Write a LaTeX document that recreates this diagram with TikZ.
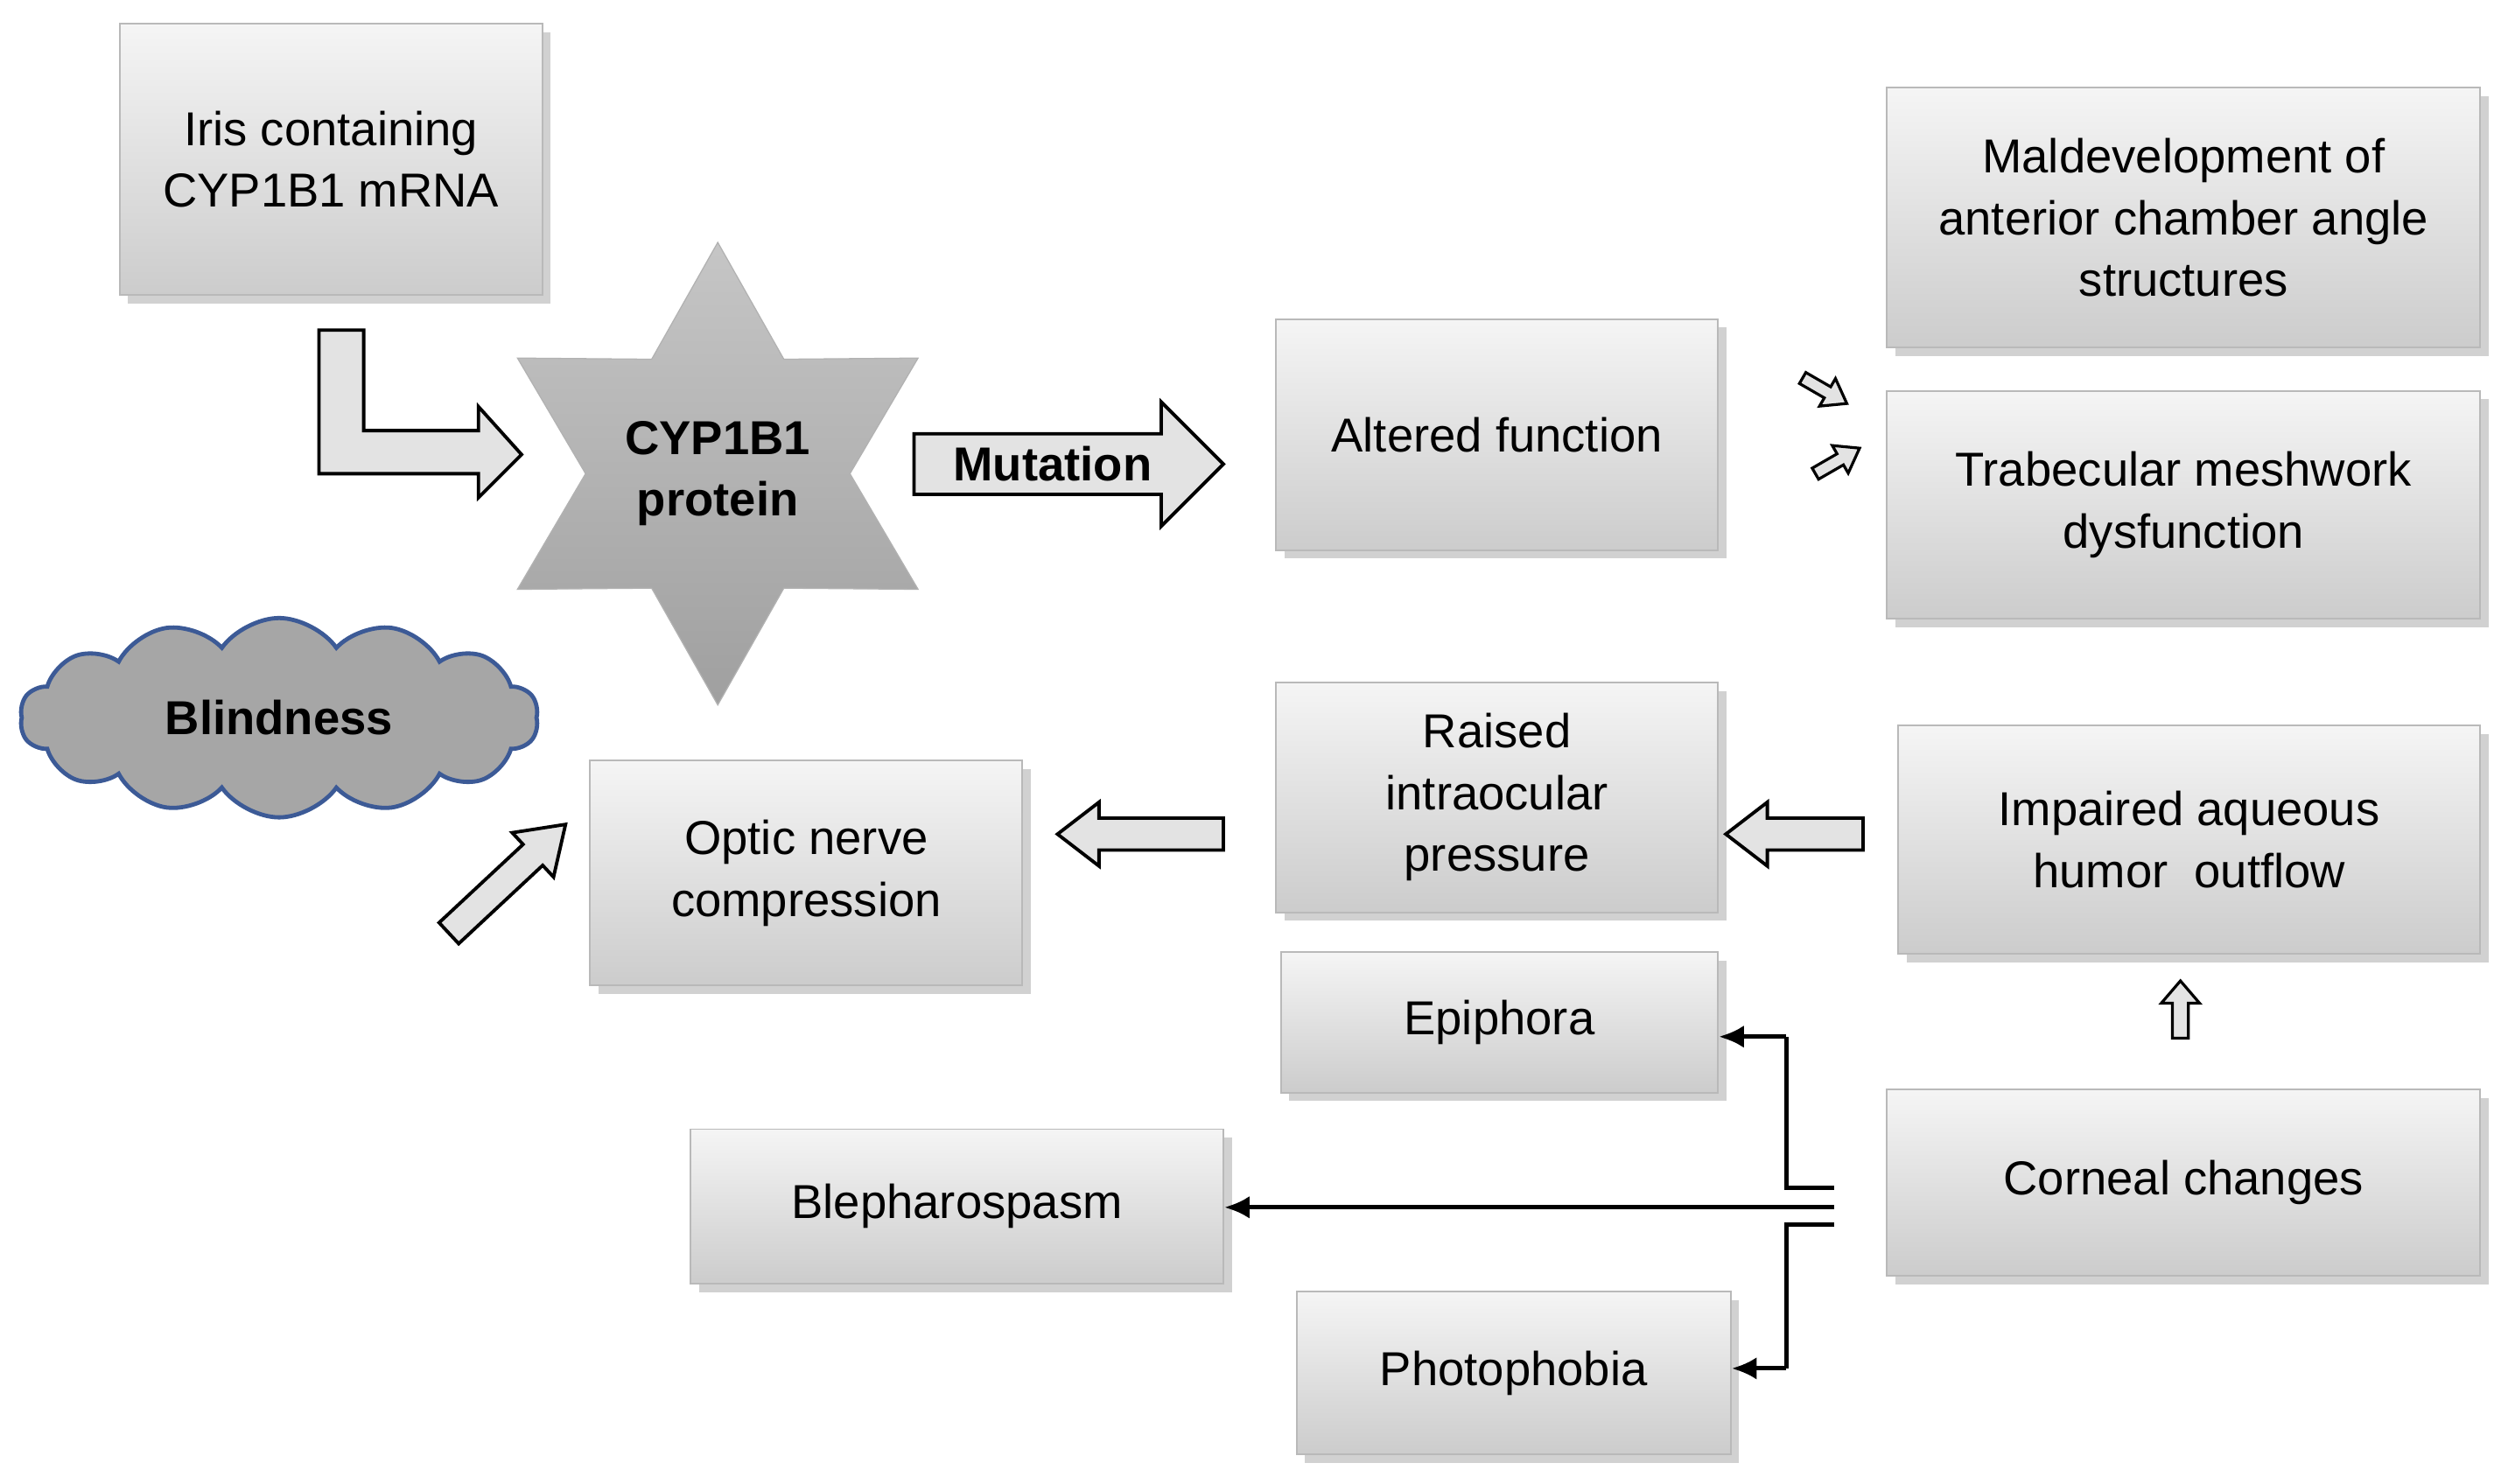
\documentclass[tikz,border=0pt]{standalone}
\usepackage{fontspec}
\setmainfont{Liberation Sans}
\usetikzlibrary{shapes.geometric,shapes.symbols,shadows}
\newcommand\bx[6]{\node[box,minimum width={(#4-#2)*0.02cm},minimum height={(#5-#3)*0.02cm}] (#1) at ({(#2+#4)/2},{(#3+#5)/2}) {#6};}
\begin{document}
\begin{tikzpicture}[x=0.02cm,y=-0.02cm,
  box/.style={draw=gray!55,line width=0.6pt,top color=gray!8,bottom color=gray!40,
    drop shadow={shadow xshift=3pt,shadow yshift=-3pt,fill=gray!60,opacity=0.6},
    align=center,font=\fontsize{17}{22}\selectfont,inner sep=2pt},
  blk/.style={draw=black,line width=1.2pt,fill=gray!22,line join=miter},
  con/.style={line width=1.6pt,-{Latex[length=9pt,width=8pt]}},
  ln/.style={line width=1.6pt}]
\usetikzlibrary{arrows.meta}
\useasboundingbox (0,0) rectangle (1568,930);
\bx{iris}{75}{15}{340}{185}{Iris containing\\CYP1B1 mRNA}
\bx{alt}{800}{200}{1077}{345}{Altered function}
\bx{mal}{1183}{55}{1555}{218}{Maldevelopment of\\anterior chamber angle\\structures}
\bx{tra}{1183}{245}{1555}{388}{Trabecular meshwork\\dysfunction}
\bx{rai}{800}{428}{1077}{572}{Raised\\intraocular\\pressure}
\bx{imp}{1190}{455}{1555}{598}{Impaired aqueous\\humor\ \ outflow}
\bx{opt}{370}{477}{641}{618}{Optic nerve\\compression}
\bx{epi}{803}{597}{1077}{685}{Epiphora}
\bx{cor}{1183}{683}{1555}{800}{Corneal changes}
\bx{ble}{433}{708}{767}{805}{Blepharospasm}
\bx{pho}{813}{810}{1085}{912}{Photophobia}
\node[star,star points=6,star point ratio=1.75,minimum size={290*0.02cm},draw=gray!60,
  top color=gray!45,bottom color=gray!75,align=center,inner sep=0pt,
  font=\fontsize{17}{22}\selectfont\bfseries] (star) at (450,297) {CYP1B1\\protein};
\node[cloud,cloud puffs=14,cloud puff arc=110,aspect=2.6,minimum width={325*0.02cm},minimum height={125*0.02cm},
  draw={rgb,255:red,60;green,90;blue,150},line width=1.5pt,fill=gray!70,
  font=\fontsize{17}{22}\selectfont\bfseries] (bl) at (175,450) {Blindness};
% block arrows
\draw[blk] (200,207)--(228,207)--(228,270)--(300,270)--(300,255)--(327,285)--(300,312)--(300,297)--(200,297)--cycle;
\draw[blk] (573,272)--(728,272)--(728,252)--(767,291)--(728,330)--(728,310)--(573,310)--cycle;
\node[font=\fontsize{17}{22}\selectfont\bfseries] (mut) at (660,291) {Mutation};
\begin{scope}[shift={(1144,245)},rotate=-30]
\draw[blk,line width=1pt] (-16,-4)--(2,-4)--(2,-10)--(16,0)--(2,10)--(2,4)--(-16,4)--cycle;
\end{scope}
\begin{scope}[shift={(1152,289)},rotate=30]
\draw[blk,line width=1pt] (-16,-4)--(2,-4)--(2,-10)--(16,0)--(2,10)--(2,4)--(-16,4)--cycle;
\end{scope}
\begin{scope}[shift={(1125,523)}]
\draw[blk] (43,-10)--(-17,-10)--(-17,-20)--(-43,0)--(-17,20)--(-17,10)--(43,10)--cycle;
\end{scope}
\begin{scope}[shift={(715,523)}]
\draw[blk] (52,-10)--(-26,-10)--(-26,-20)--(-52,0)--(-26,20)--(-26,10)--(52,10)--cycle;
\end{scope}
\begin{scope}[shift={(318,551)},rotate=-137]
\draw[blk] (50,-9)--(-22,-9)--(-22,-19)--(-50,0)--(-22,19)--(-22,9)--(50,9)--cycle;
\end{scope}
\begin{scope}[shift={(1367,633)},rotate=-90]
\draw[blk,line width=1pt] (18,-5)--(-4,-5)--(-4,-12)--(-18,0)--(-4,12)--(-4,5)--(18,5)--cycle;
\end{scope}
% connectors
\coordinate (c1) at (1150,757);
\draw[con] (c1) -- (ble.east |- c1);
\draw[ln] (1150,745)--(1120,745)--(1120,650);
\draw[con] (1120,650) -- (epi.east |- 0,650);
\draw[ln] (1150,768)--(1120,768)--(1120,858);
\draw[con] (1120,858) -- (pho.east |- 0,858);
\end{tikzpicture}
\end{document}
